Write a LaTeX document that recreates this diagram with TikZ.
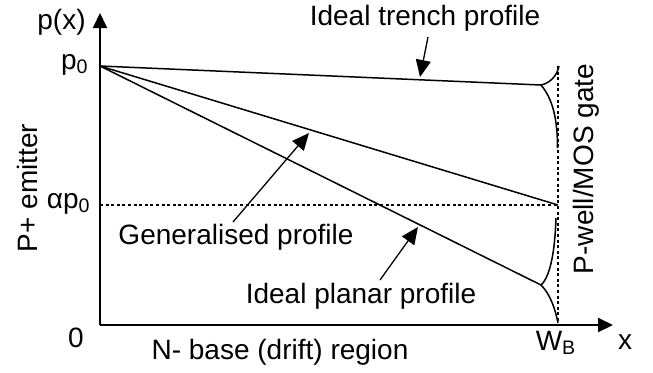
\documentclass[tikz,border=0pt]{standalone}
\usepackage{fontspec}
\setmainfont{Liberation Sans}
\usetikzlibrary{arrows.meta,calc,positioning}

\begin{document}
\begin{tikzpicture}[x=0.5pt,y=-0.5pt,
    axis/.style={line width=1pt,-{Triangle[length=7.5pt,width=7pt]}},
    profile/.style={line width=0.75pt},
    guide/.style={line width=0.6pt,dash pattern=on 1.5pt off 1.3pt},
    pointer/.style={line width=0.65pt,-{Triangle[length=8.5pt,width=7.5pt]}},
    lbl/.style={font=\fontsize{14}{16}\selectfont,inner sep=0pt}]
        \useasboundingbox (0,0) rectangle (653,372);
        % Points
        \coordinate (O) at (100,325);
        \coordinate (ytip) at (100,13);
        \coordinate (xtip) at (613,325);
        \coordinate (P) at (100,66);
        \coordinate (Wtop) at (558,66);
        \coordinate (WB) at (558,325);
        \coordinate (A) at (100,205);
        \coordinate (Amid) at (558,205);
        \coordinate (Tc) at (541,85);
        \coordinate (Pc) at (541,285);
        %axis
        \draw[axis] (O) -- (ytip);
        \draw[axis] (O) -- (xtip);
        % dotted guides
        \draw[guide] (Wtop) -- (WB);
        \draw[guide] (A) -- (Amid);
        % Profiles
        \draw[profile] (P) -- (Tc);
        \draw[profile] (Tc) .. controls (550,83) and (557,76) .. (559,66);
        \draw[profile] (Tc) .. controls (553,99) and (557.5,120) .. (557.5,148);
        \draw[profile] (P) -- (Amid);
        \draw[profile] (P) -- (Pc);
        \draw[profile] (Pc) .. controls (551,276) and (555,248) .. (556,218);
        \draw[profile] (Pc) .. controls (550,294) and (555,308) .. (558,323);
        % Axis labels
        \node[lbl,anchor=east] (px) at (86,22) {p(x)};
        \node[lbl,anchor=east] (p0) at (89,65) {p\textsubscript{0}};
        \node[lbl,anchor=east] (ap0) at (91,204) {αp\textsubscript{0}};
        \node[lbl] (zero) at (76,338) {0};
        \node[lbl] (wb) at (556,343) {W\textsubscript{B}};
        \node[lbl] (xlbl) at (625,342) {x};
        \node[lbl] (drift) at (280,352) {N- base (drift) region};
        \node[lbl,rotate=90] (emitter) at (27,188) {P+ emitter};
        \node[lbl,rotate=90] (gate) at (586,169) {P-well/MOS gate};
        % Profile names
        \node[lbl] (trench) at (425,18) {Ideal trench profile};
        \node[lbl] (general) at (236,237) {Generalised profile};
        \node[lbl] (planar) at (361,296) {Ideal planar profile};
        \coordinate (tr1) at (428,37);
        \coordinate (tr2) at (420,77);
        \coordinate (ge1) at (233,222);
        \coordinate (ge2) at (309,133);
        \coordinate (pl1) at (380,280);
        \coordinate (pl2) at (418,227);
        \draw[pointer] (tr1) -- (tr2);
        \draw[pointer] (ge1) -- (ge2);
        \draw[pointer] (pl1) -- (pl2);
      \end{tikzpicture}
\end{document}
